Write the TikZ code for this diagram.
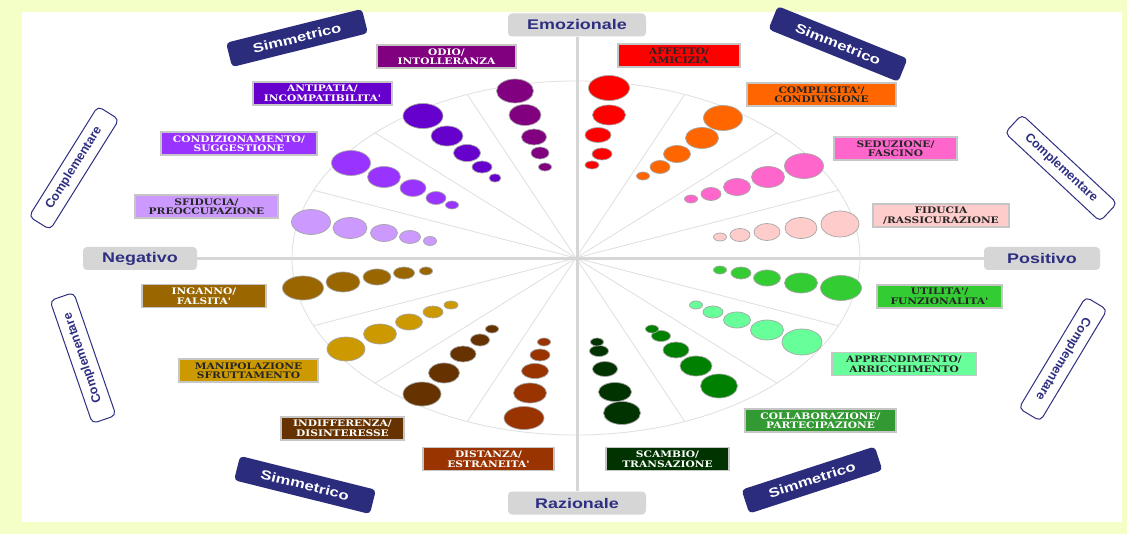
\documentclass[tikz,border=0pt]{standalone}
\usepackage{fontspec}
\newfontfamily\axisfont[FakeStretch=1.28]{Liberation Sans}
\newfontfamily\cplfont{Liberation Sans}
\newfontfamily\lblfont[FakeStretch=1.18]{DejaVu Serif}

\definecolor{bgyellow}{HTML}{F4FFC8}
\definecolor{navy}{HTML}{2E2F80}
\definecolor{simcol}{HTML}{2B2C7C}
\definecolor{axisgray}{HTML}{D6D6D6}
\definecolor{odiocol}{HTML}{800080}
\definecolor{antipcol}{HTML}{6600CC}
\definecolor{condizcol}{HTML}{9933FF}
\definecolor{sfidcol}{HTML}{CC99FF}
\definecolor{affettocol}{HTML}{FF0000}
\definecolor{complcol}{HTML}{FF6600}
\definecolor{seducol}{HTML}{FF66CC}
\definecolor{fiduccol}{HTML}{FFCCCC}
\definecolor{ingancol}{HTML}{996600}
\definecolor{manipcol}{HTML}{CC9900}
\definecolor{indiffcol}{HTML}{663300}
\definecolor{distcol}{HTML}{993300}
\definecolor{utilcol}{HTML}{33CC33}
\definecolor{apprcol}{HTML}{66FF99}
\definecolor{collabcol}{HTML}{008000}
\definecolor{collablbl}{HTML}{339933}
\definecolor{scambcol}{HTML}{003300}

\tikzset{
  lbl/.style={draw=gray!45, line width=1.2pt, minimum height=23, inner sep=0pt,
    align=center, font=\lblfont\bfseries\fontsize{9}{9.5}\selectfont},
  axisbox/.style={fill=axisgray, rounded corners=4pt, minimum width=138,
    minimum height=23, inner sep=0pt, text=navy,
    font=\axisfont\bfseries\fontsize{14}{14}\selectfont},
  simbox/.style={fill=simcol, rounded corners=4pt, minimum width=140,
    minimum height=25, inner sep=0pt, text=white,
    font=\axisfont\bfseries\fontsize{13}{13}\selectfont},
  cplbox/.style={draw=navy, fill=white, line width=1pt, rounded corners=5pt,
    minimum width=130, minimum height=25, inner sep=0pt, text=navy,
    font=\cplfont\bfseries\fontsize{12.5}{12.5}\selectfont},
  dot/.style={draw=black!35, line width=0.7pt},
  spoke/.style={draw=gray!25, line width=0.8pt},
  axisline/.style={draw=axisgray, line width=3pt}
}

\begin{document}
\begin{tikzpicture}[x=1pt, y=-1pt]
  \useasboundingbox (0,0) rectangle (1127,534);
  \fill[bgyellow] (0,0) rectangle (1127,534);
  \fill[white] (22,12) rectangle (1122,522);

  % wheel
  \coordinate (ctr) at (576,258);
  \draw[spoke] (ctr) ellipse [x radius=284, y radius=177];
  \foreach \a in {22.5,45,67.5,112.5,135,157.5,202.5,225,247.5,292.5,315,337.5}
    \draw[spoke] (ctr) -- +(\a:284 and 177);

  % axes
  \node[axisbox] (emoz) at (577,25) {Emozionale};
  \node[axisbox] (razion) at (577,503) {Razionale};
  \node[axisbox, minimum width=114] (negat) at (140,258.5) {Negativo};
  \node[axisbox, minimum width=116] (posit) at (1042,258.5) {Positivo};
  \draw[axisline] (emoz) -- (razion);
  \draw[axisline] (negat) -- (posit);

  % dots
  \foreach \x/\y/\rx/\ry in {515/91/18.5/12, 525/115/16/10.5, 534/137/12.5/8, 540/153/9/6, 545/167/6.5/4}
    \filldraw[dot, fill=odiocol] (\x,\y) ellipse [x radius=\rx, y radius=\ry];
  \foreach \x/\y/\rx/\ry in {423/116/20/12.5, 447/136/16/10, 467/153/13.5/8.5, 482/167/10/6, 495/178/6/4}
    \filldraw[dot, fill=antipcol] (\x,\y) ellipse [x radius=\rx, y radius=\ry];
  \foreach \x/\y/\rx/\ry in {351/163/19.5/12.5, 384/177/16.5/10.5, 413/188/13/8.5, 436/198/10/6.5, 452/205/6.5/4}
    \filldraw[dot, fill=condizcol] (\x,\y) ellipse [x radius=\rx, y radius=\ry];
  \foreach \x/\y/\rx/\ry in {311/222/19.5/12.5, 350/228/17/10.5, 384/233/13.5/8.5, 410/237/10.5/6.5, 430/241/6.5/4.5}
    \filldraw[dot, fill=sfidcol] (\x,\y) ellipse [x radius=\rx, y radius=\ry];
  \foreach \x/\y/\rx/\ry in {609/88/20.5/12.5, 609/115/16.5/10, 598/135/13/7.5, 602/154/10/6, 592/165/7/4}
    \filldraw[dot, fill=affettocol] (\x,\y) ellipse [x radius=\rx, y radius=\ry];
  \foreach \x/\y/\rx/\ry in {723/118/19.5/12.5, 702/138/16.5/10.5, 677/154/13.5/8.5, 660/167/10/6.5, 643/176/6.5/4}
    \filldraw[dot, fill=complcol] (\x,\y) ellipse [x radius=\rx, y radius=\ry];
  \foreach \x/\y/\rx/\ry in {804/166/19.5/12.5, 768/177/16.5/10.5, 737/187/13.5/8.5, 711/194/10/6.5, 691/199/6.5/4}
    \filldraw[dot, fill=seducol] (\x,\y) ellipse [x radius=\rx, y radius=\ry];
  \foreach \x/\y/\rx/\ry in {840/224/19/13, 801/228/16/10.5, 767/232/13/8.5, 740/235/10/6.5, 720/237/6.5/4}
    \filldraw[dot, fill=fiduccol] (\x,\y) ellipse [x radius=\rx, y radius=\ry];
  \foreach \x/\y/\rx/\ry in {303/288/20.5/12, 343/282/17/10, 377/277/14/8, 404/273/10.5/6, 426/271/6.5/4}
    \filldraw[dot, fill=ingancol] (\x,\y) ellipse [x radius=\rx, y radius=\ry];
  \foreach \x/\y/\rx/\ry in {346/349/19/12, 380/334/16.5/10, 409/322/13.5/8, 433/312/10/6, 451/305/7/4}
    \filldraw[dot, fill=manipcol] (\x,\y) ellipse [x radius=\rx, y radius=\ry];
  \foreach \x/\y/\rx/\ry in {422/394/19/12, 444/373/15.5/10, 463/354/13/8, 480/340/9.5/6, 492/329/6.5/4}
    \filldraw[dot, fill=indiffcol] (\x,\y) ellipse [x radius=\rx, y radius=\ry];
  \foreach \x/\y/\rx/\ry in {524/418/20/11.5, 530/393/16.5/10, 535/371/13.5/7.5, 540/355/10/6, 544/342/6.5/4}
    \filldraw[dot, fill=distcol] (\x,\y) ellipse [x radius=\rx, y radius=\ry];
  \foreach \x/\y/\rx/\ry in {841/288/20.5/12.5, 801/283/16.5/10, 767/278/13.5/8, 741/273/10/6, 720/270/6.5/4}
    \filldraw[dot, fill=utilcol] (\x,\y) ellipse [x radius=\rx, y radius=\ry];
  \foreach \x/\y/\rx/\ry in {802/342/20/13, 767/330/16.5/10, 737/320/13.5/8, 713/312/10/6, 696/305/6.5/4}
    \filldraw[dot, fill=apprcol] (\x,\y) ellipse [x radius=\rx, y radius=\ry];
  \foreach \x/\y/\rx/\ry in {719/386/18.5/12, 696/366/16/10, 676/350/13/8, 661/336/9.5/5.5, 652/329/6.5/4}
    \filldraw[dot, fill=collabcol] (\x,\y) ellipse [x radius=\rx, y radius=\ry];
  \foreach \x/\y/\rx/\ry in {622/413/18.5/11.5, 615/392/16.5/9.5, 605/369/12.5/7.5, 599/351/9.5/5.5, 597/342/6.5/4}
    \filldraw[dot, fill=scambcol] (\x,\y) ellipse [x radius=\rx, y radius=\ry];

  % labels
  \node[lbl, fill=odiocol, text=white, minimum width=139] (odio) at (446.5,56.5) {ODIO/\\INTOLLERANZA};
  \node[lbl, fill=affettocol, text=black!85, minimum width=122] (affetto) at (679,55.5) {AFFETTO/\\AMICIZIA};
  \node[lbl, fill=antipcol, text=white, minimum width=139] (antip) at (322.5,93.5) {ANTIPATIA/\\INCOMPATIBILITA'};
  \node[lbl, fill=complcol, text=black!85, minimum width=149] (compl) at (821.5,94.5) {COMPLICITA'/\\CONDIVISIONE};
  \node[lbl, fill=condizcol, text=white, minimum width=156] (condiz) at (239,143.5) {CONDIZIONAMENTO/\\SUGGESTIONE};
  \node[lbl, fill=seducol, text=black!85, minimum width=123] (sedu) at (895.5,148.5) {SEDUZIONE/\\FASCINO};
  \node[lbl, fill=sfidcol, text=black!85, minimum width=143] (sfid) at (206.5,206.5) {SFIDUCIA/\\PREOCCUPAZIONE};
  \node[lbl, fill=fiduccol, text=black!85, minimum width=136] (fiduc) at (941,215.5) {FIDUCIA\\/RASSICURAZIONE};
  \node[lbl, fill=ingancol, text=white, minimum width=124] (ingan) at (204,296) {INGANNO/\\FALSITA'};
  \node[lbl, fill=utilcol, text=black!85, minimum width=125] (util) at (939.5,296.5) {UTILITA'/\\FUNZIONALITA'};
  \node[lbl, fill=manipcol, text=black!85, minimum width=139] (manip) at (248.5,370.5) {MANIPOLAZIONE\\SFRUTTAMENTO};
  \node[lbl, fill=apprcol, text=black!85, minimum width=144] (appr) at (904,364) {APPRENDIMENTO/\\ARRICCHIMENTO};
  \node[lbl, fill=indiffcol, text=white, minimum width=123] (indiff) at (342.5,428.5) {INDIFFERENZA/\\DISINTERESSE};
  \node[lbl, fill=collablbl, text=white, minimum width=151] (collab) at (820.5,420.5) {COLLABORAZIONE/\\PARTECIPAZIONE};
  \node[lbl, fill=distcol, text=white, minimum width=131] (dist) at (488.5,459) {DISTANZA/\\ESTRANEITA'};
  \node[lbl, fill=scambcol, text=white, minimum width=123] (scamb) at (667.5,459) {SCAMBIO/\\TRANSAZIONE};

  % relation tags
  \node[simbox, rotate=14] (simTL) at (297,38) {Simmetrico};
  \node[simbox, rotate=-22] (simTR) at (838,44) {Simmetrico};
  \node[simbox, rotate=-14] (simBL) at (305,485) {Simmetrico};
  \node[simbox, rotate=18] (simBR) at (812,480) {Simmetrico};
  \node[cplbox, rotate=58] (cplTL) at (74,168) {Complementare};
  \node[cplbox, rotate=109] (cplBL) at (83,358) {Complementare};
  \node[cplbox, rotate=-43] (cplTR) at (1061,168) {Complementare};
  \node[cplbox, rotate=-121] (cplBR) at (1063,359) {Complementare};
\end{tikzpicture}
\end{document}
